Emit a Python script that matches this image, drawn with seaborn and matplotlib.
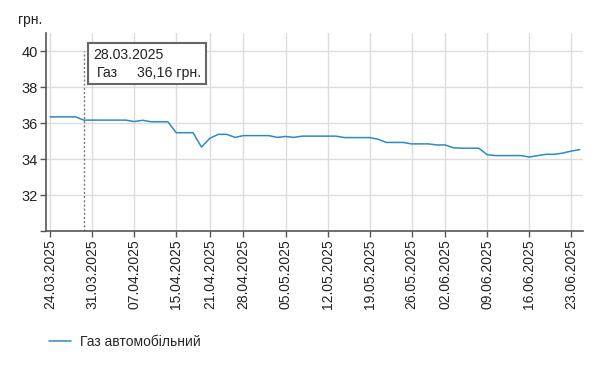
import matplotlib
matplotlib.use("Agg")
import matplotlib.pyplot as plt
import numpy as np
import pandas as pd
import seaborn as sns
from matplotlib.patches import Rectangle

# робочі дні з даними (деякі дні пропущені)
propuski = ['2025-04-14', '2025-04-25', '2025-05-30']
daty = [d for d in pd.bdate_range('2025-03-24', '2025-06-24') if d.strftime('%Y-%m-%d') not in propuski]

tsina = [36.34, 36.34, 36.34, 36.34, 36.16, 36.16, 36.16, 36.16, 36.16, 36.16,
         36.08, 36.15, 36.07, 36.07, 36.07, 35.46, 35.46, 35.46, 34.66, 35.15,
         35.37, 35.37, 35.20, 35.30, 35.30, 35.30, 35.30, 35.20, 35.25, 35.20,
         35.27, 35.27, 35.27, 35.27, 35.27, 35.19, 35.19, 35.19, 35.19, 35.10,
         34.92, 34.92, 34.92, 34.84, 34.84, 34.84, 34.78, 34.78, 34.62, 34.60,
         34.60, 34.60, 34.24, 34.19, 34.19, 34.19, 34.19, 34.11, 34.19, 34.26,
         34.26, 34.33, 34.44, 34.52]

mitky = ['24.03.2025', '31.03.2025', '07.04.2025', '15.04.2025', '21.04.2025',
         '28.04.2025', '05.05.2025', '12.05.2025', '19.05.2025', '26.05.2025',
         '02.06.2025', '09.06.2025', '16.06.2025', '23.06.2025']
y_mitky = [30, 32, 34, 36, 38, 40]
nazva = 'Газ автомобільний'
kolir = '#2b8cc0'

df = pd.DataFrame({'data': [d.strftime('%d.%m.%Y') for d in daty], 'tsina': tsina})
df['i'] = np.arange(len(df))

sns.set_style('white')
plt.rcParams['font.family'] = ['Liberation Sans', 'DejaVu Sans']

fig = plt.figure(figsize=(6.13, 3.70), dpi=100)
ax = fig.add_axes([46 / 613, 1 - 231 / 370, (583 - 46) / 613, (231 - 33) / 370])

sns.lineplot(data=df, x='i', y='tsina', ax=ax, color=kolir, linewidth=1.1, label=nazva, legend=False)

poz = [df.index[df['data'] == m][0] for m in mitky]
ax.set_xticks(poz)
ax.set_xticklabels(mitky, rotation=90, fontsize=10)
ax.set_yticks(y_mitky)
ax.set_yticklabels([''] + [str(v) for v in y_mitky[1:]], fontsize=10.5)
ax.set_xlim(-0.5, 63.4)
ax.set_ylim(30, 41)
ax.set_xlabel('')
ax.set_ylabel('')

ax.grid(True, color='#dcdcdc', linewidth=1)
ax.yaxis.get_gridlines()[0].set_visible(False)
sns.despine(ax=ax)
for s in ['left', 'bottom']:
    ax.spines[s].set_color('#555555')
    ax.spines[s].set_linewidth(1.2)
ax.tick_params(axis='both', which='major', length=4, width=1, color='#555555',
               labelcolor='#222222', pad=2, bottom=True, left=True)

# підказка для 28.03.2025
k = df.index[df['data'] == '28.03.2025'][0]
ax.plot([k, k], [30, 40], color='#777777', linestyle=(0, (1.5, 1.5)), linewidth=1)
fig.patches.append(Rectangle((88 / 613, 1 - 84 / 370), 118 / 613, 41 / 370,
                             transform=fig.transFigure, facecolor='white',
                             edgecolor='#666666', linewidth=1.5, zorder=5))
fig.text(93 / 613, 1 - 55 / 370, df.loc[k, 'data'], fontsize=10.2, va='center', ha='left', color='#222222', zorder=6)
fig.text(97 / 613, 1 - 73 / 370, 'Газ', fontsize=10.2, va='center', ha='left', color='#222222', zorder=6)
fig.text(137 / 613, 1 - 73 / 370, f"{df.loc[k, 'tsina']:.2f}".replace('.', ',') + ' грн.',
         fontsize=10.2, va='center', ha='left', color='#222222', zorder=6)

fig.text(18 / 613, 1 - 20 / 370, 'грн.', fontsize=10, va='center', ha='left', color='#222222')

h, l = ax.get_legend_handles_labels()
fig.legend(h, l, loc='center left', bbox_to_anchor=(43.5 / 613, 1 - 342 / 370), frameon=False,
           fontsize=10, handlelength=1.6, handletextpad=0.6, borderaxespad=0)

fig.savefig('out.png', dpi=100)
